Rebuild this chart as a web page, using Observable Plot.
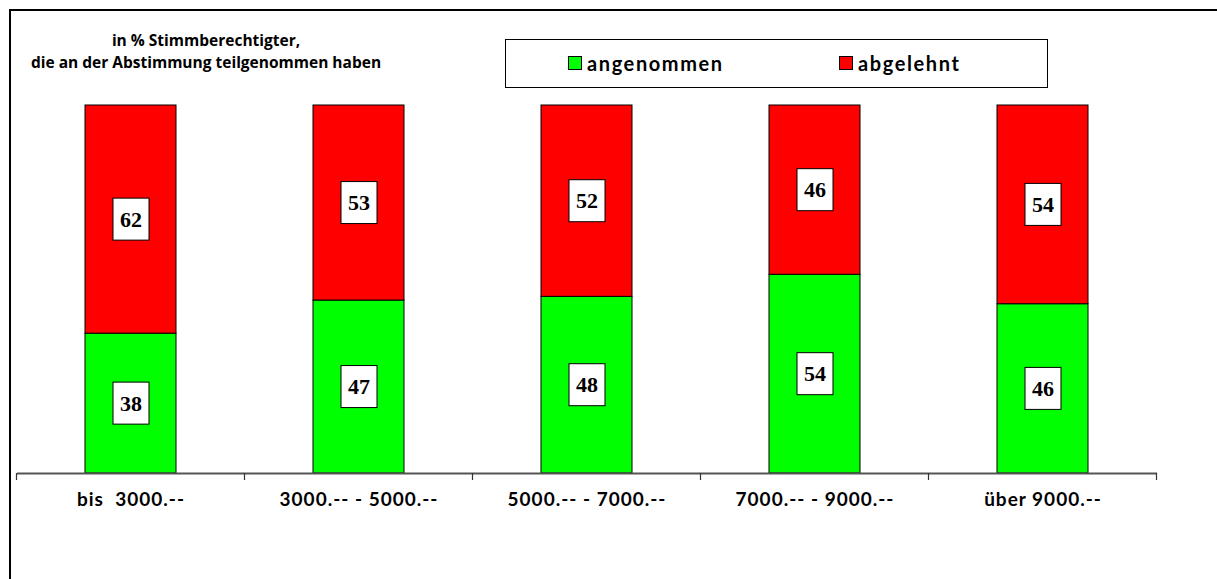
<!DOCTYPE html>
<html>
<head>
<meta charset="utf-8">
<script src="https://cdn.jsdelivr.net/npm/d3@7"></script>
<script src="https://cdn.jsdelivr.net/npm/@observablehq/plot@0.6"></script>
<style>
  html, body { margin: 0; padding: 0; background: #fff; }
  #wrap { position: relative; width: 1217px; height: 579px; overflow: hidden; background: #fff; }
  #frame { position: absolute; left: 9px; top: 9px; width: 1400px; height: 800px; border-top: 2.5px solid #000; border-left: 2.5px solid #000; box-sizing: border-box; pointer-events: none; }
  #header { position: relative; height: 95px; }
  #title { position: absolute; left: 15px; top: 29px; width: 382px; text-align: center; font-family: "Open Sans", sans-serif; font-weight: 700; font-size: 15.5px; line-height: 22px; color: #000; }
  #legend { position: absolute; left: 505px; top: 39px; width: 543px; height: 49px; border: 1.5px solid #000; box-sizing: border-box; font-family: "Lato", sans-serif; font-weight: 700; font-size: 20px; letter-spacing: 1.6px; color: #000; }
  .item { position: absolute; top: 11px; display: flex; align-items: center; }
  .sw { width: 12px; height: 12px; border: 1px solid #000; margin-right: 5px; }
</style>
</head>
<body>
<div id="wrap">
  <div id="header">
    <div id="title">in % Stimmberechtigter,<br>die an der Abstimmung teilgenommen haben</div>
    <div id="legend"></div>
  </div>
  <div id="chart"></div>
  <div id="frame"></div>
</div>
<script>
const categories = ["bis  3000.--", "3000.-- - 5000.--", "5000.-- - 7000.--", "7000.-- - 9000.--", "über 9000.--"];
const seriesNames = ["angenommen", "abgelehnt"];
const angenommen = [38, 47, 48, 54, 46];
const abgelehnt = [62, 53, 52, 46, 54];
const colors = ["#00ff00", "#ff0000"];

const data = [];
categories.forEach((c, i) => {
  data.push({cat: c, series: seriesNames[0], value: angenommen[i], mid: angenommen[i] / 2});
  data.push({cat: c, series: seriesNames[1], value: abgelehnt[i], mid: angenommen[i] + abgelehnt[i] / 2});
});

// legend
const legend = document.getElementById("legend");
const legendLefts = [62, 333];
seriesNames.forEach((s, i) => {
  const it = document.createElement("div");
  it.className = "item";
  it.style.left = legendLefts[i] + "px";
  it.innerHTML = `<span class="sw" style="background:${colors[i]}"></span><span>${s}</span>`;
  legend.appendChild(it);
});

function boundaryTicks(index, scales, values, dimensions) {
  const x = scales.x, y = scales.y;
  const step = x.step(), bw = x.bandwidth();
  const y0 = y(0);
  const g = d3.create("svg:g");
  const xs = categories.map(c => x(c) + bw / 2 - step / 2);
  xs.push(x(categories[categories.length - 1]) + bw / 2 + step / 2);
  xs.forEach(px => {
    g.append("line").attr("x1", px).attr("x2", px).attr("y1", y0).attr("y2", y0 + 7)
      .attr("stroke", "#333").attr("stroke-width", 1.2);
  });
  return g.node();
}

const chart = Plot.plot({
  width: 1217,
  height: 484,
  marginTop: 10,
  marginBottom: 106,
  marginLeft: 17,
  marginRight: 60,
  x: {domain: categories, paddingInner: 0.6, paddingOuter: 0.3, label: null},
  y: {domain: [0, 100], axis: null},
  color: {domain: seriesNames, range: colors},
  marks: [
    Plot.barY(data, {x: "cat", y: "value", fill: "series", stroke: "#000", strokeWidth: 1, order: seriesNames}),
    Plot.ruleY([0], {stroke: "#555", strokeWidth: 2}),
    boundaryTicks,
    Plot.axisX({tickSize: 0, tickPadding: 19, fontSize: 19, fontWeight: "bold", fontFamily: "Lato, sans-serif", fill: "#000", label: null, className: "xlab"}),
    Plot.text(data, {x: "cat", y: "mid", text: d => String(d.value), fontSize: 22, fontWeight: "bold", fontFamily: "'Liberation Serif', serif", fill: "#000", className: "vlabel"})
  ],
  style: {background: "transparent", overflow: "visible"}
});
document.getElementById("chart").appendChild(chart);

chart.querySelectorAll("g.xlab text").forEach(t => { t.style.letterSpacing = "1px"; });

// white boxes behind value labels
chart.querySelectorAll("g.vlabel text").forEach(t => {
  const bb = t.getBBox();
  const w = 36, h = 42;
  const r = document.createElementNS("http://www.w3.org/2000/svg", "rect");
  const cx = bb.x + bb.width / 2, cy = bb.y + bb.height / 2;
  r.setAttribute("x", cx - w / 2);
  r.setAttribute("y", cy - h / 2);
  r.setAttribute("width", w);
  r.setAttribute("height", h);
  r.setAttribute("fill", "#fff");
  r.setAttribute("stroke", "#000");
  r.setAttribute("stroke-width", 1);
  const tr = t.getAttribute("transform");
  if (tr) r.setAttribute("transform", tr);
  t.parentNode.insertBefore(r, t);
});
</script>
</body>
</html>
